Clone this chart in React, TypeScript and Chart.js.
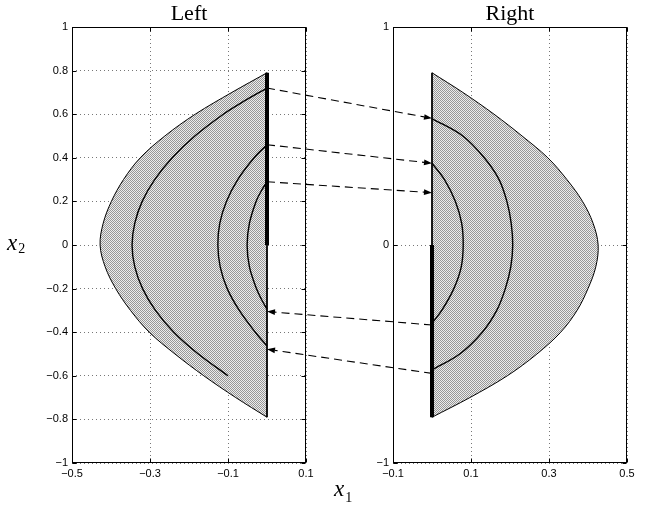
import { useEffect, useRef } from "react";
import { Chart, registerables } from "chart.js";

Chart.register(...registerables);

// ---- tick values ----
const leftTicksX = [-0.5, -0.3, -0.1, 0.1];
const leftTicksY = [-1, -0.8, -0.6, -0.4, -0.2, 0, 0.2, 0.4, 0.6, 0.8, 1];
const rightTicksX = [-0.1, 0.1, 0.3, 0.5];
const rightTicksY = [-1, 0, 1];

// ---- Left plot ----
const leftOuterY = [0.79, 0.7, 0.6, 0.5, 0.4, 0.3, 0.2, 0.1, 0, -0.1, -0.2, -0.3, -0.4, -0.5, -0.6, -0.7, -0.79];
const leftOuterX = [0, -0.09, -0.184, -0.262, -0.325, -0.368, -0.399, -0.42, -0.428, -0.415, -0.388, -0.35, -0.302, -0.236, -0.162, -0.08, 0];

const leftCurveAY = [0.72, 0.65, 0.6, 0.5, 0.4, 0.3, 0.2, 0.1, 0, -0.1, -0.2, -0.3, -0.4, -0.5, -0.6];
const leftCurveAX = [0, -0.068, -0.112, -0.185, -0.243, -0.288, -0.32, -0.339, -0.346, -0.339, -0.319, -0.286, -0.239, -0.176, -0.1];

const leftCurveBY = [0.46, 0.4, 0.3, 0.2, 0.1, 0, -0.1, -0.2, -0.3, -0.4, -0.463];
const leftCurveBX = [0, -0.033, -0.075, -0.104, -0.121, -0.126, -0.12, -0.102, -0.071, -0.03, 0];

const leftCurveCY = [0.29, 0.25, 0.2, 0.1, 0, -0.1, -0.2, -0.25, -0.294];
const leftCurveCX = [0, -0.014, -0.028, -0.045, -0.051, -0.045, -0.027, -0.014, 0];

const leftEdgeY = [-0.79, 0.79];
const leftThickY = [0, 0.79];

// ---- Right plot ----
const rightOuterY = [0.79, 0.7, 0.6, 0.5, 0.4, 0.3, 0.2, 0.1, 0, -0.1, -0.2, -0.3, -0.4, -0.5, -0.6, -0.7, -0.79];
const rightOuterX = [0, 0.079, 0.159, 0.231, 0.297, 0.346, 0.386, 0.413, 0.426, 0.42, 0.4, 0.372, 0.33, 0.269, 0.193, 0.097, 0];

const rightCurveDY = [0.58, 0.5, 0.4, 0.3, 0.2, 0.1, 0, -0.1, -0.2, -0.3, -0.4, -0.5, -0.573];
const rightCurveDX = [0, 0.079, 0.134, 0.172, 0.192, 0.203, 0.207, 0.202, 0.188, 0.166, 0.129, 0.071, 0];

const rightCurveEY = [0.375, 0.3, 0.2, 0.1, 0, -0.1, -0.2, -0.3, -0.359];
const rightCurveEX = [0, 0.032, 0.06, 0.076, 0.08, 0.075, 0.056, 0.025, 0];

const rightEdgeY = [-0.79, 0.79];
const rightThickY = [0, -0.79];

// ---- mapping arrows (x2 values at x1 = 0) ----
const arrowFromLeftY = [0.72, 0.46, 0.29];
const arrowToRightY = [0.581, 0.375, 0.24];
const arrowFromRightY = [-0.367, -0.589];
const arrowToLeftY = [-0.305, -0.478];

function pts(xs: number[], ys: number[]) {
  return ys.map((y, i) => ({ x: xs[i], y }));
}
function vline(ys: number[]) {
  return ys.map((y) => ({ x: 0, y }));
}

const fmt = (v: any) => String(v).replace("-", "\u2212");

function curve(data: any[], width: number) {
  return {
    data,
    borderColor: "#000",
    borderWidth: width,
    pointRadius: 0,
    fill: false,
    tension: 0.35,
    order: 0,
  };
}

function shape(data: any[], pattern: any) {
  return {
    data,
    borderColor: "#000",
    borderWidth: 1,
    pointRadius: 0,
    fill: "shape",
    backgroundColor: pattern,
    tension: 0.35,
    order: 5,
  };
}

function frameAndTicks() {
  return {
    id: "frameTicks",
    afterDraw(chart: any) {
      const { ctx, chartArea: a, scales } = chart;
      ctx.save();
      ctx.strokeStyle = "#000";
      ctx.lineWidth = 1;
      ctx.setLineDash([]);
      const L = Math.round(a.left) + 0.5;
      const R = Math.round(a.right) - 0.5;
      const T = Math.round(a.top) + 0.5;
      const B = Math.round(a.bottom) - 0.5;
      ctx.beginPath();
      scales.x.ticks.forEach((t: any) => {
        const px = Math.round(scales.x.getPixelForValue(t.value)) + 0.5;
        ctx.moveTo(px, B);
        ctx.lineTo(px, B - 4);
        ctx.moveTo(px, T);
        ctx.lineTo(px, T + 4);
      });
      scales.y.ticks.forEach((t: any) => {
        const py = Math.round(scales.y.getPixelForValue(t.value)) + 0.5;
        ctx.moveTo(L, py);
        ctx.lineTo(L + 4, py);
        ctx.moveTo(R, py);
        ctx.lineTo(R - 4, py);
      });
      ctx.stroke();
      ctx.strokeRect(L, T, R - L, B - T);
      ctx.restore();
    },
  };
}

function options(
  xTicks: number[],
  yTicks: number[],
  padLeft: number,
  padRight: number,
  title: string
) {
  const tickFont = { family: "'Liberation Sans', Arial, sans-serif", size: 11 };
  const grid = { color: "#777", lineWidth: 1, drawTicks: false };
  const border = { display: false, dash: [1, 3] };
  return {
    responsive: false,
    animation: false,
    events: [],
    layout: { padding: { left: padLeft, right: padRight, top: 0, bottom: 0 } },
    plugins: {
      legend: { display: false },
      tooltip: { enabled: false },
      title: {
        display: true,
        text: title,
        fullSize: false,
        color: "#000",
        font: { family: "'Liberation Serif', 'Times New Roman', serif", size: 22, weight: "normal", lineHeight: 1.1 },
        padding: { top: 2, bottom: 0.8 },
      },
    },
    scales: {
      x: {
        type: "linear",
        min: xTicks[0],
        max: xTicks[xTicks.length - 1],
        afterBuildTicks: (s: any) => {
          s.ticks = xTicks.map((v) => ({ value: v }));
        },
        afterFit: (s: any) => {
          s.height = 45;
        },
        grid,
        border,
        ticks: { padding: 4, color: "#000", font: tickFont, maxRotation: 0, autoSkip: false, callback: fmt },
      },
      y: {
        type: "linear",
        min: yTicks[0],
        max: yTicks[yTicks.length - 1],
        afterBuildTicks: (s: any) => {
          s.ticks = yTicks.map((v) => ({ value: v }));
        },
        afterFit: (s: any) => {
          s.width = 72;
        },
        grid,
        border,
        ticks: { padding: 4, color: "#000", font: tickFont, autoSkip: false, callback: fmt },
      },
    },
  };
}

function drawArrow(ctx: CanvasRenderingContext2D, x1: number, y1: number, x2: number, y2: number) {
  const dx = x2 - x1;
  const dy = y2 - y1;
  const len = Math.hypot(dx, dy);
  const ux = dx / len;
  const uy = dy / len;
  const head = 8;
  const half = 2.8;
  const bx = x2 - ux * head;
  const by = y2 - uy * head;
  ctx.save();
  ctx.strokeStyle = "#000";
  ctx.lineWidth = 1.1;
  ctx.setLineDash([8, 5]);
  ctx.beginPath();
  ctx.moveTo(x1, y1);
  ctx.lineTo(bx, by);
  ctx.stroke();
  ctx.setLineDash([]);
  ctx.fillStyle = "#000";
  ctx.beginPath();
  ctx.moveTo(x2, y2);
  ctx.lineTo(bx - uy * half, by + ux * half);
  ctx.lineTo(bx + uy * half, by - ux * half);
  ctx.closePath();
  ctx.fill();
  ctx.restore();
}

function drawSubLabel(ctx: CanvasRenderingContext2D, base: string, sub: string, x: number, y: number, subDrop: number) {
  ctx.font = "italic 23px 'Liberation Serif', serif";
  ctx.fillText(base, x, y);
  const w = ctx.measureText(base).width;
  ctx.font = "14px 'Liberation Serif', serif";
  ctx.fillText(sub, x + w + 1, y + subDrop);
}

export default function App() {
  const leftRef = useRef<HTMLCanvasElement>(null);
  const rightRef = useRef<HTMLCanvasElement>(null);

  useEffect(() => {
    const lc = leftRef.current!;
    const rc = rightRef.current!;
    const pc = document.createElement("canvas");
    pc.width = 2;
    pc.height = 2;
    const pctx = pc.getContext("2d")!;
    pctx.fillStyle = "#ececec";
    pctx.fillRect(0, 0, 2, 2);
    pctx.fillStyle = "#979797";
    pctx.fillRect(0, 0, 1, 1);
    pctx.fillRect(1, 1, 1, 1);
    const pattern = lc.getContext("2d")!.createPattern(pc, "repeat");

    const left = new Chart(lc, {
      type: "line",
      data: {
        datasets: [
          shape(pts(leftOuterX, leftOuterY), pattern),
          curve(vline(leftEdgeY), 1.8),
          curve(pts(leftCurveAX, leftCurveAY), 1.4),
          curve(pts(leftCurveBX, leftCurveBY), 1.4),
          curve(pts(leftCurveCX, leftCurveCY), 1.4),
          curve(vline(leftThickY), 4),
        ] as any,
      },
      options: options(leftTicksX, leftTicksY, 0, 344, "Left") as any,
      plugins: [frameAndTicks()],
    });

    const overlay = {
      id: "mapArrows",
      afterDraw(chart: any) {
        const ctx = chart.ctx as CanvasRenderingContext2D;
        const lx = left.scales.x.getPixelForValue(0);
        const rx = chart.scales.x.getPixelForValue(0);
        arrowFromLeftY.forEach((yl, i) => {
          drawArrow(ctx, lx, left.scales.y.getPixelForValue(yl), rx, chart.scales.y.getPixelForValue(arrowToRightY[i]));
        });
        arrowFromRightY.forEach((yr, i) => {
          drawArrow(ctx, rx, chart.scales.y.getPixelForValue(yr), lx, left.scales.y.getPixelForValue(arrowToLeftY[i]));
        });
        ctx.save();
        ctx.fillStyle = "#000";
        ctx.textBaseline = "alphabetic";
        ctx.textAlign = "left";
        drawSubLabel(ctx, "x", "2", 7, 250, 3);
        drawSubLabel(ctx, "x", "1", 334, 496, 6);
        ctx.restore();
      },
    };

    const right = new Chart(rc, {
      type: "line",
      data: {
        datasets: [
          shape(pts(rightOuterX, rightOuterY), pattern),
          curve(vline(rightEdgeY), 1.8),
          curve(pts(rightCurveDX, rightCurveDY), 1.4),
          curve(pts(rightCurveEX, rightCurveEY), 1.4),
          curve(vline(rightThickY), 4),
        ] as any,
      },
      options: options(rightTicksX, rightTicksY, 321, 23, "Right") as any,
      plugins: [frameAndTicks(), overlay],
    });

    return () => {
      right.destroy();
      left.destroy();
    };
  }, []);

  return (
    <div style={{ position: "absolute", left: 0, top: 0, width: 650, height: 508, background: "#fff" }}>
      <canvas ref={leftRef} width={650} height={508} style={{ position: "absolute", left: 0, top: 0 }} />
      <canvas ref={rightRef} width={650} height={508} style={{ position: "absolute", left: 0, top: 0 }} />
    </div>
  );
}
